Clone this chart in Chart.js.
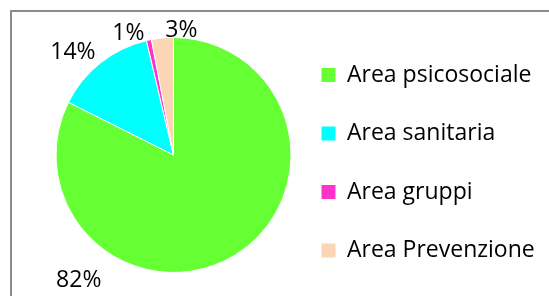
<!DOCTYPE html>
<html>
<head>
<meta charset="utf-8">
<script src="https://cdn.jsdelivr.net/npm/chart.js@4"></script>
<style>
  html, body { margin: 0; padding: 0; background: #fff; overflow: hidden; }
  #frame {
    position: absolute; left: 10px; top: 10px; width: 700px; height: 400px;
    border: 2px solid #8c8c8c;
  }
  #wrap { position: absolute; left: 0; top: 0; width: 549px; height: 310px; }
</style>
</head>
<body>
<div id="frame"></div>
<div id="wrap"><canvas id="pie"></canvas></div>
<script>
// dati
const categorie = ["Area psicosociale", "Area sanitaria", "Area gruppi", "Area Prevenzione"];
const valori = [82.4, 13.9, 0.7, 3.0];
const colori = ["#66FF33", "#00FFFF", "#FF33CC", "#FCD5B5"];

// spostamento delle etichette percentuali (come nel grafico di Excel)
const spostamenti = [[-168, 7], [-14, 7], [-16, 15], [21, 14]];

const etichettePlugin = {
  id: "etichette",
  afterDatasetsDraw(chart) {
    const ctx = chart.ctx;
    const meta = chart.getDatasetMeta(0);
    const totale = valori.reduce((a, b) => a + b, 0);
    ctx.save();
    ctx.font = "23px 'Open Sans'";
    ctx.fillStyle = "#000";
    ctx.textAlign = "center";
    ctx.textBaseline = "middle";
    meta.data.forEach((arc, i) => {
      const p = arc.getProps(["x", "y", "startAngle", "endAngle", "outerRadius"], true);
      const mid = (p.startAngle + p.endAngle) / 2;
      const d = p.outerRadius + 22;
      const x = p.x + Math.cos(mid) * d + spostamenti[i][0];
      const y = p.y + Math.sin(mid) * d + spostamenti[i][1];
      ctx.fillText(Math.round(valori[i] / totale * 100) + "%", x, y);
    });
    ctx.restore();
  }
};

new Chart(document.getElementById("pie"), {
  type: "pie",
  data: {
    labels: categorie,
    datasets: [{
      data: valori,
      backgroundColor: colori,
      borderColor: "#fff",
      borderWidth: 1,
      radius: 117.5
    }]
  },
  options: {
    responsive: true,
    maintainAspectRatio: false,
    animation: false,
    layout: { padding: { left: 61, right: 13, top: 0, bottom: 0 } },
    plugins: {
      tooltip: { enabled: false },
      legend: {
        position: "right",
        align: "center",
        maxWidth: 250,
        title: { display: true, text: "", padding: 0, font: { size: 10, lineHeight: 1.55 } },
        labels: {
          boxWidth: 14,
          boxHeight: 14,
          padding: 35.5,
          color: "#000",
          font: { family: "'Open Sans'", size: 23 },
          generateLabels(chart) {
            const items = Chart.overrides.pie.plugins.legend.labels.generateLabels(chart);
            items.forEach(it => { it.lineWidth = 0; });
            return items;
          }
        }
      }
    }
  },
  plugins: [etichettePlugin]
});
</script>
</body>
</html>
